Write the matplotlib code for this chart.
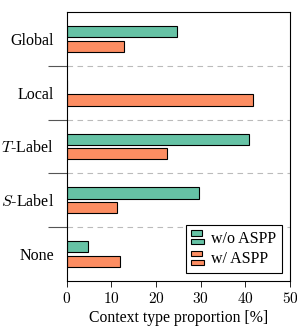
import matplotlib
matplotlib.use("Agg")
import matplotlib.pyplot as plt
import numpy as np
from matplotlib.legend_handler import HandlerBase
from matplotlib.patches import Rectangle

plt.rcParams['font.family'] = ['Liberation Serif', 'DejaVu Serif']
plt.rcParams['mathtext.fontset'] = 'cm'

categories = ['Global', 'Local', r'$T$-Label', r'$S$-Label', 'None']
wo_aspp = [24.8, 0.0, 40.9, 29.7, 4.8]
w_aspp = [12.8, 41.7, 22.4, 11.2, 12.0]
xticks = [0, 10, 20, 30, 40, 50]

green = '#66c2a5'
orange = '#fc8d62'


class TwoBarHandler(HandlerBase):
    # pgfplots-like legend image: two small stacked bars
    def create_artists(self, legend, orig_handle, xdescent, ydescent,
                       width, height, fontsize, trans):
        fc = orig_handle.get_facecolor()
        h = height * 0.42
        x0, y0 = -xdescent, -ydescent
        r1 = Rectangle((x0, y0 + height * 0.62), width * 0.8, h,
                       facecolor=fc, edgecolor='black', linewidth=0.8, transform=trans)
        r2 = Rectangle((x0, y0 - height * 0.1), width, h,
                       facecolor=fc, edgecolor='black', linewidth=0.8, transform=trans)
        return [r1, r2]


fig = plt.figure(figsize=(2.97, 3.29), dpi=100)
ax = fig.add_axes([66.5 / 297, 1 - 281 / 329, 223.5 / 297, 269 / 329])

y = np.arange(len(categories))
bh = 0.21
off = 0.135
b1 = ax.barh(y - off, wo_aspp, height=bh, color=green, edgecolor='black', linewidth=0.8)
b2 = ax.barh(y + off, w_aspp, height=bh, color=orange, edgecolor='black', linewidth=0.8)

ax.set_ylim(len(categories) - 0.5, -0.5)
ax.set_xlim(0, 50)
ax.set_xticks(xticks)
ax.set_xticklabels([r'$%d$' % t for t in xticks])

# category labels as minor ticks, separators as major ticks
ax.set_yticks(np.arange(len(categories) - 1) + 0.5)
ax.set_yticklabels([])
ax.set_yticks(y, minor=True)
ax.set_yticklabels(categories, minor=True)
ax.tick_params(axis='y', which='minor', length=0, pad=9, labelsize=11.5)
ax.tick_params(axis='y', which='major', length=14, width=0.8, color='#555555')
ax.tick_params(axis='x', length=4, width=0.6, labelsize=11, direction='out', pad=3)
ax.grid(axis='y', which='major', linestyle=(0, (5, 4)), color='#bbbbbb', linewidth=0.8)

for s in ax.spines.values():
    s.set_linewidth(0.8)

ax.set_xlabel('Context type proportion [%]', fontsize=11.3, labelpad=3)

h1, h2 = b1.patches[0], b2.patches[0]
leg = ax.legend(handles=[h1, h2], labels=['w/o ASPP', 'w/ ASPP'], loc='lower right', fontsize=11.5,
                handler_map={Rectangle: TwoBarHandler()},
                fancybox=False, edgecolor='black', framealpha=1,
                handlelength=0.8, handleheight=0.8, handletextpad=0.45,
                borderaxespad=0.5, labelspacing=0.3, borderpad=0.35)
leg.get_frame().set_linewidth(0.8)

fig.savefig('out.png', dpi=100)
